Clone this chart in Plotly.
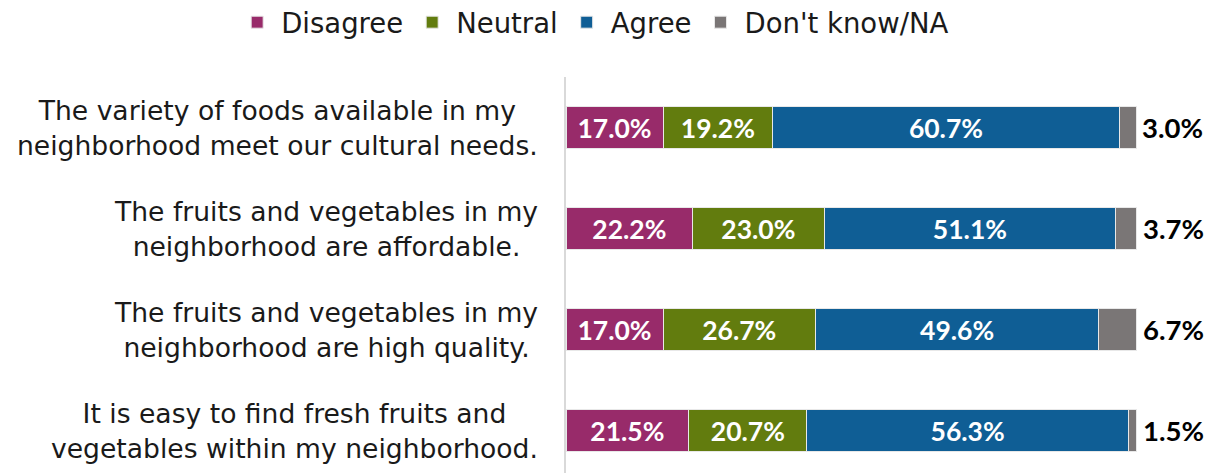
import plotly.graph_objects as go

categories = [
    "The variety of foods available in my<br>neighborhood meet our cultural needs.",
    "The fruits and vegetables in my<br>neighborhood are affordable.",
    "The fruits and vegetables in my<br>neighborhood are high quality.",
    "It is easy to find fresh fruits and<br>vegetables within my neighborhood.",
]
disagree = [17.0, 22.2, 17.0, 21.5]
neutral = [19.2, 23.0, 26.7, 20.7]
agree = [60.7, 51.1, 49.6, 56.3]
dont_know = [3.0, 3.7, 6.7, 1.5]

series = [
    ("Disagree", disagree, "#982B6A"),
    ("Neutral", neutral, "#627C0E"),
    ("Agree", agree, "#0F5E95"),
    ("Don't know/NA", dont_know, "#7A7676"),
]

FONT = "DejaVu Sans"
fig = go.Figure()
for i, (name, vals, color) in enumerate(series):
    last = i == len(series) - 1
    fig.add_trace(go.Bar(
        y=categories, x=vals, name=name, orientation="h",
        marker=dict(color=color, line=dict(color="#E8E8E8", width=1)),
        text=None if last else [f"{v:.1f}%" for v in vals],
        textposition="inside",
        insidetextanchor="middle",
        constraintext="none",
        textfont=dict(family="Lato", size=26.5, color="white", weight="bold"),
        hoverinfo="skip",
    ))

# outside labels for the last segment
for cat, d, n, a, k in zip(categories, disagree, neutral, agree, dont_know):
    fig.add_annotation(
        x=d + n + a + k, xref="x", y=cat, yref="y", xanchor="left", yanchor="middle",
        xshift=4, text=f"{k:.1f}%", showarrow=False,
        font=dict(family="Lato", size=27.5, color="black", weight="bold"),
    )

for cat in categories:
    fig.add_annotation(
        x=0, xref="paper", y=cat, yref="y", xanchor="right", yanchor="middle",
        xshift=-26, text=cat, showarrow=False, align="center",
        font=dict(family=FONT, size=26.6, color="#1a1a1a"),
    )

fig.update_layout(
    barmode="stack",
    width=1216, height=473,
    margin=dict(l=566, r=22, t=77, b=0, autoexpand=False),
    paper_bgcolor="white", plot_bgcolor="white",
    bargap=0.59,
    showlegend=True,
    legend=dict(
        orientation="h", xref="paper", yref="paper",
        x=-0.53, xanchor="left", y=1.2, yanchor="top",
        font=dict(family=FONT, size=27.5, color="#1a1a1a"),
        itemwidth=38, traceorder="normal",
    ),
    xaxis=dict(range=[0, 110], visible=False, fixedrange=True),
    yaxis=dict(
        type="category", range=[3.42, -0.5], showticklabels=False,
        showgrid=False, zeroline=False, showline=True,
        linecolor="#D9D9D9", linewidth=2, ticks="",
    ),
)

fig.write_html("out.html")
